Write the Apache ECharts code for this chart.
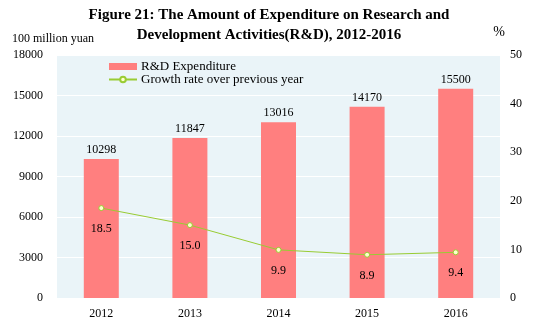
<!DOCTYPE html>
<html><head><meta charset="utf-8">
<script src="https://cdn.jsdelivr.net/npm/echarts@6/dist/echarts.min.js"></script>
<style>html,body{margin:0;padding:0;background:#fff}#c{width:538px;height:327px}</style>
</head><body><div id="c"></div>
<script>
const years = ['2012','2013','2014','2015','2016'];
const expenditure = [10298, 11847, 13016, 14170, 15500];
const growth = [18.5, 15.0, 9.9, 8.9, 9.4];
const leftTicks = {min:0, max:18000, interval:3000};
const rightTicks = {min:0, max:50, interval:10};
const F = '"Liberation Serif","Times New Roman",serif';
const chart = echarts.init(document.getElementById('c'));
chart.setOption({
  animation:false,
  textStyle:{fontFamily:F},
  title:{text:'Figure 21: The Amount of Expenditure on Research and\nDevelopment Activities(R&D), 2012-2016', left:'center', top:0,
    textStyle:{fontFamily:F, fontWeight:'bold', fontSize:15, lineHeight:20, color:'#000'}},
  legend:{orient:'vertical', left:103, top:55, itemWidth:28, itemHeight:7, itemGap:0,
    textStyle:{fontFamily:F, fontSize:13, color:'#000', lineHeight:12, padding:[0,0,0,-1]},
    data:[{name:'R&D Expenditure', icon:'rect'}, {name:'Growth rate over previous year'}]},
  grid:{left:57, right:38, top:55, bottom:29, show:true, backgroundColor:'#EAF4F8', borderWidth:0},
  xAxis:{type:'category', data:years, axisLine:{show:false}, axisTick:{show:false},
    axisLabel:{fontFamily:F, fontSize:12, color:'#000', margin:10}},
  yAxis:[
    {type:'value', min:leftTicks.min, max:leftTicks.max, interval:leftTicks.interval, name:'100 million yuan',
     nameLocation:'end', nameGap:10, nameTextStyle:{fontFamily:F, fontSize:12, color:'#000', align:'left', padding:[0,0,0,-45]},
     axisLine:{show:false}, axisTick:{show:false},
     axisLabel:{fontFamily:F, fontSize:12, color:'#000', margin:14, formatter:v=>String(v)},
     splitLine:{lineStyle:{color:'#ffffff', width:1}}},
    {type:'value', min:rightTicks.min, max:rightTicks.max, interval:rightTicks.interval, name:'%',
     nameLocation:'end', nameGap:16, nameTextStyle:{fontFamily:F, fontSize:14, color:'#000', padding:[0,0,0,-2]},
     axisLine:{show:false}, axisTick:{show:false},
     axisLabel:{fontFamily:F, fontSize:12, color:'#000', margin:10},
     splitLine:{show:false}}
  ],
  series:[
    {name:'R&D Expenditure', type:'bar', data:expenditure, barWidth:35, itemStyle:{color:'#FF7F7F'},
     label:{show:true, position:'top', distance:3, fontFamily:F, fontSize:12, color:'#000'}},
    {name:'Growth rate over previous year', type:'line', yAxisIndex:1, data:growth,
     symbol:'circle', symbolSize:5, lineStyle:{color:'#99CC33', width:1},
     itemStyle:{color:'#FFFFCC', borderColor:'#99CC33', borderWidth:1},
     label:{show:true, position:'bottom', distance:12, fontFamily:F, fontSize:12, color:'#000',
       formatter:p=>p.value.toFixed(1)}}
  ]
});
</script></body></html>
